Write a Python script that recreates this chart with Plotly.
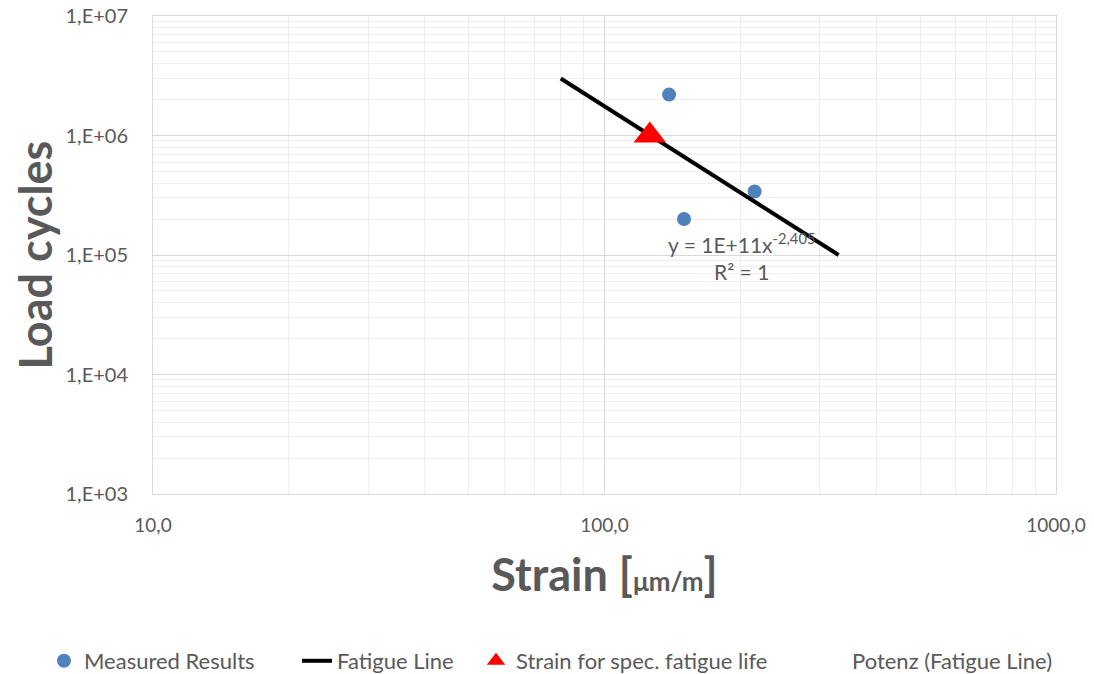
import plotly.graph_objects as go

# ---- data ----
measured_strain = [139, 150, 215]
measured_cycles = [2.2e6, 2.0e5, 3.4e5]

fatigue_strain = [80, 330]
fatigue_cycles = [3.0e6, 1.0e5]

spec_strain = [126]
spec_cycles = [1.0e6]

x_tickvals = [10, 100, 1000]
x_ticktext = ["10,0", "100,0", "1000,0"]
y_tickvals = [1e3, 1e4, 1e5, 1e6, 1e7]
y_ticktext = ["1,E+03", "1,E+04", "1,E+05", "1,E+06", "1,E+07"]

x_minor = [m * d for d in (10, 100) for m in range(2, 10)]
y_minor = [m * d for d in (1e3, 1e4, 1e5, 1e6) for m in range(2, 10)]

equation_text = "y = 1E+11x<sup>-2,405</sup><br>R² = 1"

FONT = "Lato"
GREY = "#595959"

# the page body adds an 8px offset, so the figure is laid out in shifted pixels
OFF = 8
W, H = 1094 - OFF, 674 - OFF
L = 153 - OFF
T = 16 - OFF
R = W - (1056 - OFF)
B = H - (494 - OFF)
PW, PH = W - L - R, H - T - B

fig = go.Figure()

fig.add_trace(go.Scatter(
    x=measured_strain, y=measured_cycles, mode="markers", name="Measured Results",
    marker=dict(color="#4f81bd", size=14, line=dict(width=0)), legend="legend",
))
fig.add_trace(go.Scatter(
    x=fatigue_strain, y=fatigue_cycles, mode="lines", name="Fatigue Line",
    line=dict(color="black", width=4), legend="legend2",
))
fig.add_trace(go.Scatter(
    x=spec_strain, y=spec_cycles, mode="markers", name="Strain for spec. fatigue life",
    marker=dict(color="#ff0000", symbol="triangle-up", size=28, line=dict(width=0)),
    legend="legend3",
))
fig.add_trace(go.Scatter(
    x=fatigue_strain, y=fatigue_cycles, mode="lines", name="Potenz (Fatigue Line)",
    line=dict(color="rgba(0,0,0,0)", width=1), legend="legend4", hoverinfo="skip",
))

fig.add_annotation(
    x=2.303, y=4.99, xref="x", yref="y", text=equation_text, showarrow=False,
    font=dict(family=FONT, size=21, color=GREY), align="center",
)

axis_common = dict(
    type="log", showline=True, linecolor="#d9d9d9", linewidth=1, mirror=True,
    gridcolor="#d9d9d9", gridwidth=1, zeroline=False, ticks="", automargin=False,
    ticklabeloverflow="allow",
)

fig.update_xaxes(
    **axis_common, range=[1, 3], tickvals=x_tickvals, ticktext=x_ticktext,
    tickfont=dict(family=FONT, size=19, color=GREY),
    ticklabelstandoff=14,
    minor=dict(tickvals=x_minor, showgrid=True, gridcolor="#efefef", gridwidth=1),
    title=dict(text="Strain [<span style='font-size:26px'>μm/m</span>]",
               font=dict(family=FONT, size=45, color=GREY, weight="bold"), standoff=24),
)
fig.update_yaxes(
    **axis_common, range=[3, 7], tickvals=y_tickvals, ticktext=y_ticktext,
    tickfont=dict(family=FONT, size=20, color=GREY),
    ticklabelstandoff=20,
    minor=dict(tickvals=y_minor, showgrid=True, gridcolor="#efefef", gridwidth=1),
    title=dict(text="Load cycles",
               font=dict(family=FONT, size=45, color=GREY, weight="bold"), standoff=12),
)


def lx(px):
    return (px - OFF - L) / PW


leg_y = (H - B - (661 - OFF)) / PH
leg_common = dict(orientation="h", xref="paper", yref="paper",
                  y=leg_y, yanchor="middle", xanchor="left",
                  font=dict(family=FONT, size=22, color=GREY),
                  bgcolor="rgba(0,0,0,0)", borderwidth=0)

fig.update_layout(
    width=W, height=H,
    margin=dict(l=L, r=R, t=T, b=B, autoexpand=False),
    paper_bgcolor="white", plot_bgcolor="white",
    font=dict(family=FONT, color=GREY),
    showlegend=True,
    legend=dict(**leg_common, x=lx(44)),
    legend2=dict(**leg_common, x=lx(297)),
    legend3=dict(**leg_common, x=lx(476)),
    legend4=dict(**leg_common, x=lx(812)),
)

fig.write_html("out.html")
